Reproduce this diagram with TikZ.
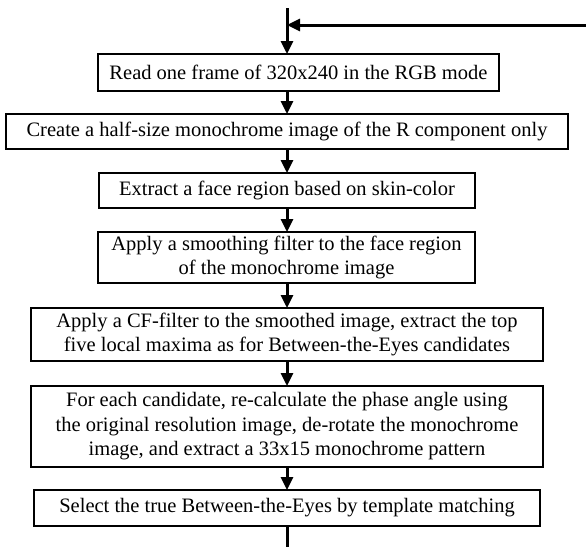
\documentclass[tikz,border=0pt]{standalone}
\usepackage{fontspec}
\setmainfont{Liberation Serif}
\usetikzlibrary{arrows.meta}
\begin{document}
\begin{tikzpicture}[x=1pt,y=-1pt,
  stepbox/.style={draw=black, line width=1.4pt, inner sep=0pt, outer sep=0pt, align=center,
    font=\fontsize{20.5}{24.5}\selectfont},
  flow/.style={line width=3pt, -{Triangle[length=13pt,width=12pt]}},
  plain/.style={line width=3pt}]
\useasboundingbox (0,0) rectangle (586,547);
\node[stepbox, minimum width=401pt, minimum height=37pt] (b1) at (298.5,72.5) {Read one frame of 320x240 in the RGB mode};
\node[stepbox, minimum width=562pt, minimum height=35pt] (b2) at (287,131.5) {Create a half-size monochrome image of the R component only};
\node[stepbox, minimum width=376pt, minimum height=35pt] (b3) at (287,190.5) {Extract a face region based on skin-color};
\node[stepbox, minimum width=377pt, minimum height=51pt] (b4) at (286.5,257.5) {Apply a smoothing filter to the face region\\of the monochrome image};
\node[stepbox, minimum width=512pt, minimum height=53pt] (b5) at (287,334.5) {Apply a CF-filter to the smoothed image, extract the top\\five local maxima as for Between-the-Eyes candidates};
\node[stepbox, minimum width=512pt, minimum height=81pt] (b6) at (287,426.5) {For each candidate, re-calculate the phase angle using\\the original resolution image, de-rotate the monochrome\\image, and extract a 33x15 monochrome pattern};
\node[stepbox, minimum width=506pt, minimum height=36pt] (b7) at (287,508) {Select the true Between-the-Eyes by template matching};
\coordinate (top) at (287,8);
\coordinate (loop) at (586,25);
\coordinate (bottom) at (287,547);
\draw[flow] (top) -- (top |- b1.north);
\draw[flow] (loop) -- (top |- loop);
\draw[flow] (top |- b1.south) -- (b2.north);
\draw[flow] (b2.south) -- (b3.north);
\draw[flow] (b3.south) -- (b3.south |- b4.north);
\draw[flow] (b4.south -| b5.north) -- (b5.north);
\draw[flow] (b5.south) -- (b6.north);
\draw[flow] (b6.south) -- (b7.north);
\draw[plain] (b7.south) -- (bottom);
\end{tikzpicture}
\end{document}
